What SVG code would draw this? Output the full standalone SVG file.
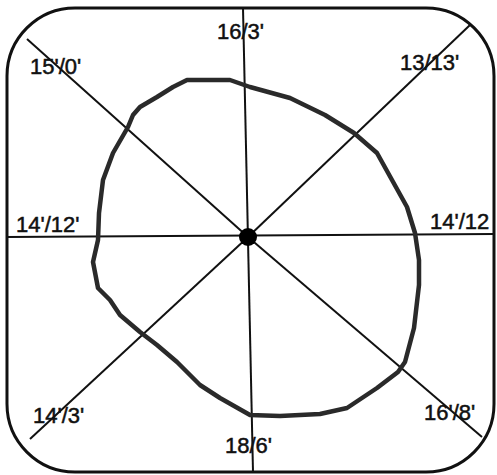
<svg xmlns="http://www.w3.org/2000/svg" width="497" height="475" viewBox="0 0 497 475">
<style>
.frame{fill:none;stroke:#111;stroke-width:3}
.ray{stroke:#111;stroke-width:2;fill:none}
.outline{fill:none;stroke:#2a2a2a;stroke-width:4.5;stroke-linejoin:round;stroke-linecap:round}
.lbl{font-family:"Liberation Sans",Arial,sans-serif;font-size:22px;fill:#111;stroke:#111;stroke-width:0.5}
</style>
<rect width="497" height="475" fill="#fff"/>
<g id="frame"><rect class="frame" x="7" y="8" width="487" height="464" rx="68" ry="68"/></g>
<g id="connectors">
<line class="ray" x1="243" y1="8" x2="253" y2="472"/>
<line class="ray" x1="7" y1="237" x2="494" y2="234"/>
<line class="ray" x1="27" y1="39" x2="248" y2="237"/>
<line class="ray" x1="470" y1="25" x2="248" y2="237"/>
<line class="ray" x1="30" y1="439" x2="248" y2="237"/>
<line class="ray" x1="482" y1="437" x2="248" y2="237"/>
</g>
<g id="outline"><path class="outline" d="M187,80 L230,80 L250,87 L290,98 L325,115 L354,133 L377,153 L392,180 L407,207 L415,233 L419,260 L419,285 L414,328 L405,362 L398,372 L377,388 L347,408 L320,414 L280,416 L250,415 L220,398 L200,385 L177,362 L157,345 L140,332 L120,315 L110,300 L98,288 L93,262 L98,240 L99,213 L103,180 L113,153 L128,127 L133,115 L140,107 L157,97 L173,87 Z"/></g>
<g id="center"><circle cx="248" cy="237" r="9" fill="#000"/></g>
<g id="labels">
<text class="lbl" x="30" y="74">15'/0'</text>
<text class="lbl" x="217" y="39">16/3'</text>
<text class="lbl" x="400" y="70">13/13'</text>
<text class="lbl" x="16" y="232">14'/12'</text>
<text class="lbl" x="430" y="229">14'/12</text>
<text class="lbl" x="33" y="423">14'/3'</text>
<text class="lbl" x="225" y="453">18/6'</text>
<text class="lbl" x="424" y="420">16'/8'</text>
</g>
</svg>
